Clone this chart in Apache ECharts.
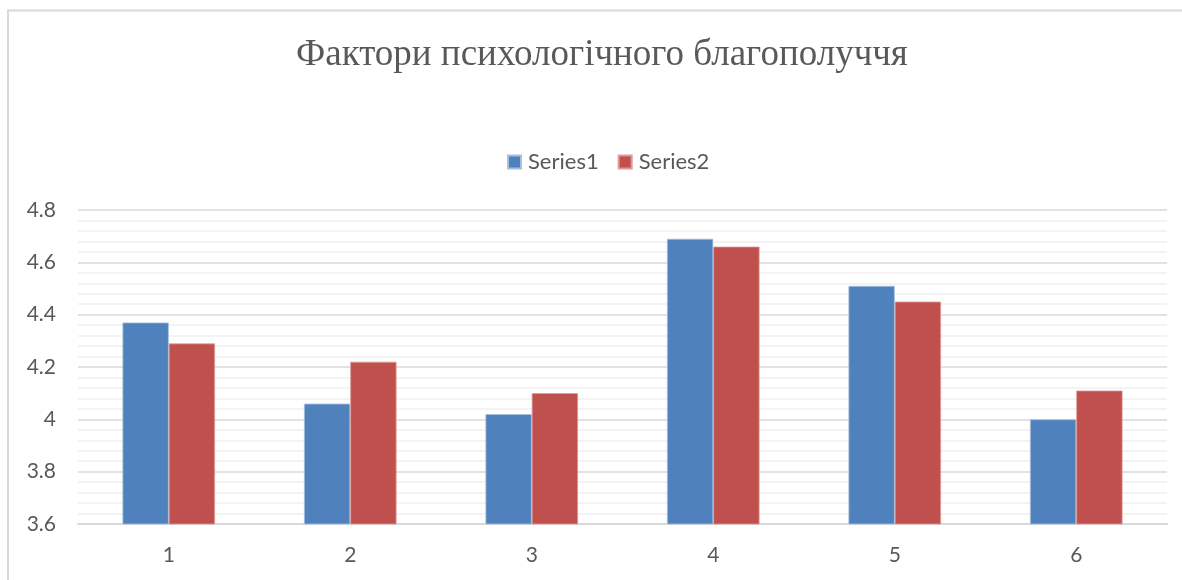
<!DOCTYPE html>
<html>
<head>
<meta charset="utf-8">
<script src="https://cdn.jsdelivr.net/npm/echarts@6/dist/echarts.min.js"></script>
<style>
  html, body { margin: 0; padding: 0; background: #ffffff; }
  #chart { width: 1182px; height: 580px; }
</style>
</head>
<body>
<div id="chart"></div>
<script>
// Factor numbers along the category axis
const categories = ['1', '2', '3', '4', '5', '6'];
// Mean scores per factor
const series1 = [4.37, 4.06, 4.02, 4.69, 4.51, 4.00];
const series2 = [4.29, 4.22, 4.10, 4.66, 4.45, 4.11];
const seriesNames = ['Series1', 'Series2'];
const titleText = 'Фактори психологічного благополуччя';

const textColor = '#595959';
const labelFont = 'Lato, "Open Sans", sans-serif';

const chart = echarts.init(document.getElementById('chart'), null, { renderer: 'canvas' });

chart.setOption({
  animation: false,
  backgroundColor: '#ffffff',
  title: {
    text: titleText,
    left: 291,
    top: 32,
    textStyle: {
      fontFamily: '"Liberation Serif", "DejaVu Serif", serif',
      fontWeight: 'normal',
      fontSize: 37,
      color: textColor
    }
  },
  legend: {
    data: seriesNames,
    top: 146,
    left: 502,
    itemWidth: 13,
    itemHeight: 13,
    itemGap: 19,
    icon: 'rect',
    textStyle: { fontFamily: labelFont, fontSize: 22, color: textColor, padding: [0, 0, 0, 2] }
  },
  grid: { left: 78, right: 15, top: 210, bottom: 56, containLabel: false },
  xAxis: {
    type: 'category',
    data: categories,
    axisLine: { show: true, lineStyle: { color: '#d9d9d9', width: 2 } },
    axisTick: { show: false },
    axisLabel: { fontFamily: labelFont, fontSize: 21, color: textColor, margin: 21 }
  },
  yAxis: {
    type: 'value',
    min: 3.6,
    max: 4.8,
    interval: 0.2,
    axisLine: { show: false },
    axisTick: { show: false },
    axisLabel: {
      fontFamily: labelFont, fontSize: 21, color: textColor, margin: 22,
      formatter: function (v) { return String(Math.round(v * 10) / 10); }
    },
    splitLine: { show: true, lineStyle: { color: '#d9d9d9', width: 1.5 } },
    minorTick: { show: false, splitNumber: 5 },
    minorSplitLine: { show: true, lineStyle: { color: '#f0f0f0', width: 1.5 } }
  },
  series: [
    {
      name: seriesNames[0],
      type: 'bar',
      data: series1,
      barGap: '0%',
      barCategoryGap: '49%',
      itemStyle: { color: '#4f81bd', borderColor: '#a7c0de', borderWidth: 0.8 }
    },
    {
      name: seriesNames[1],
      type: 'bar',
      data: series2,
      barGap: '0%',
      barCategoryGap: '49%',
      itemStyle: { color: '#c0504d', borderColor: '#dc9a98', borderWidth: 0.8 }
    }
  ],
  graphic: [
    {
      type: 'polyline',
      silent: true,
      shape: { points: [[8, 580], [8, 10.5], [1182, 10.5]] },
      style: { stroke: '#d9d9d9', lineWidth: 2, fill: null }
    }
  ]
});
</script>
</body>
</html>
